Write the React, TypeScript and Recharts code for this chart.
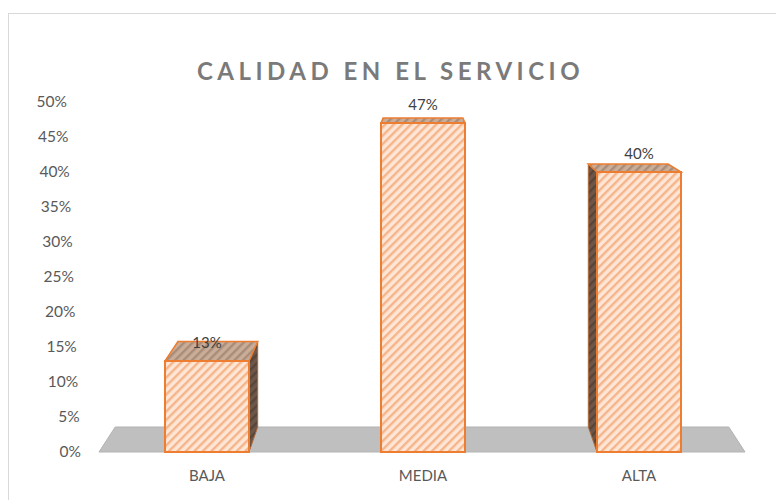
import React from 'react';
import { BarChart, Bar, XAxis, YAxis, LabelList, ReferenceArea } from 'recharts';

const categories = ['BAJA', 'MEDIA', 'ALTA'];
const values = [0.13, 0.47, 0.40];
const yTicks = [0, 0.05, 0.1, 0.15, 0.2, 0.25, 0.3, 0.35, 0.4, 0.45, 0.5];
const title = 'CALIDAD EN EL SERVICIO';

const data = categories.map((c, i) => ({ name: c, value: values[i] }));

const W = 776;
const H = 492;
const Y_AXIS_W = 60;
const MARGIN = { top: 94, right: 37, bottom: 18, left: 31 };
const PLOT_L = MARGIN.left + Y_AXIS_W;
const PLOT_R = W - MARGIN.right;
const VX = (PLOT_L + PLOT_R) / 2;
const VY = 34;
const AX = 0.05;
const AY = 0.061;
const dX = (px: number) => AX * (VX - px);
const dY = (py: number) => AY * (VY - py);

const FONT = 'Lato, "Open Sans", sans-serif';
const pct = (v: number) => `${Math.round(v * 100)}%`;

const pts = (arr: number[][]) => arr.map((p) => p.join(',')).join(' ');

const Bar3D = (props: any) => {
  const { x, y, width, height, index } = props;
  const x2 = x + width;
  const yb = y + height;
  const top = [
    [x, y],
    [x2, y],
    [x2 + dX(x2), y + dY(y)],
    [x + dX(x), y + dY(y)],
  ];
  let side: number[][] | null = null;
  if (x2 < VX) {
    side = [
      [x2, y],
      [x2, yb],
      [x2 + dX(x2), yb + dY(yb)],
      [x2 + dX(x2), y + dY(y)],
    ];
  } else if (x > VX) {
    side = [
      [x, y],
      [x, yb],
      [x + dX(x), yb + dY(yb)],
      [x + dX(x), y + dY(y)],
    ];
  }
  const idF = `hf-${index}`;
  const idT = `ht-${index}`;
  const idS = `hs-${index}`;
  return (
    <g>
      <defs>
        <pattern id={idF} patternUnits="userSpaceOnUse" width="6" height="6" patternTransform="rotate(45)">
          <rect width="6" height="6" fill="#fde6d6" />
          <rect width="2.4" height="6" fill="#f5b48a" />
        </pattern>
        <pattern id={idT} patternUnits="userSpaceOnUse" width="6" height="6" patternTransform="rotate(45)">
          <rect width="6" height="6" fill="#c9ad98" />
          <rect width="2.4" height="6" fill="#a98c78" />
        </pattern>
        <pattern id={idS} patternUnits="userSpaceOnUse" width="6" height="6" patternTransform="rotate(45)">
          <rect width="6" height="6" fill="#6e5748" />
          <rect width="2.4" height="6" fill="#574539" />
        </pattern>
      </defs>
      {side && <polygon points={pts(side)} fill={`url(#${idS})`} stroke="#b06a3a" strokeWidth={1} />}
      <polygon points={pts(top)} fill={`url(#${idT})`} stroke="#ED7D31" strokeWidth={1.5} />
      <rect x={x} y={y} width={width} height={height} fill={`url(#${idF})`} stroke="#ED7D31" strokeWidth={2} />
    </g>
  );
};

const Floor = (props: any) => {
  const { x, y, width, height } = props;
  const yf = y + height;
  const x2 = x + width;
  const poly = [
    [x, yf],
    [x2 - 2, yf],
    [x2 - 2 + dX(x2), yf + dY(yf)],
    [x + dX(x), yf + dY(yf)],
  ];
  return <polygon points={pts(poly)} fill="#bfbfbf" stroke="#b3b3b3" strokeWidth={1} />;
};

const YTick = (props: any) => {
  const { y, payload } = props;
  const v = payload.value as number;
  const right = 73 - (v / 0.5) * 14;
  return (
    <text x={right} y={y} dy="0.35em" textAnchor="end" fill="#595959" fontSize={15.5} fontFamily={FONT}>
      {pct(v)}
    </text>
  );
};

export default function App() {
  return (
    <div style={{ position: 'relative', width: W, height: H, overflow: 'hidden', background: '#fff' }}>
      <div
        style={{
          position: 'absolute',
          left: 0,
          top: 5,
          width: 900,
          height: 700,
          border: '1px solid #d9d9d9',
          boxSizing: 'border-box',
        }}
      />
      <div
        style={{
          position: 'absolute',
          left: 0,
          top: 49,
          width: 756,
          paddingLeft: 4.5,
          textAlign: 'center',
          fontFamily: FONT,
          fontWeight: 700,
          fontSize: 24,
          lineHeight: '28px',
          letterSpacing: 4.5,
          color: '#7a7a7a',
        }}
      >
        {title}
      </div>
      <div style={{ position: 'absolute', left: 0, top: 0 }}>
        <BarChart width={W} height={H} data={data} margin={MARGIN}>
          <XAxis
            dataKey="name"
            axisLine={false}
            tickLine={false}
            tickSize={0}
            tickMargin={18}
            tick={{ fill: '#595959', fontSize: 15, fontFamily: FONT }}
          />
          <YAxis
            width={Y_AXIS_W}
            domain={[0, 0.5]}
            ticks={yTicks}
            axisLine={false}
            tickLine={false}
            tick={<YTick />}
          />
          <ReferenceArea y1={0} y2={0.5} shape={<Floor />} ifOverflow="visible" />
          <Bar dataKey="value" barSize={84} shape={<Bar3D />} isAnimationActive={false}>
            <LabelList
              dataKey="value"
              position="top"
              offset={13}
              formatter={(v: any) => pct(Number(v))}
              fill="#404040"
              fontSize={15}
              fontFamily={FONT}
            />
          </Bar>
        </BarChart>
      </div>
    </div>
  );
}
